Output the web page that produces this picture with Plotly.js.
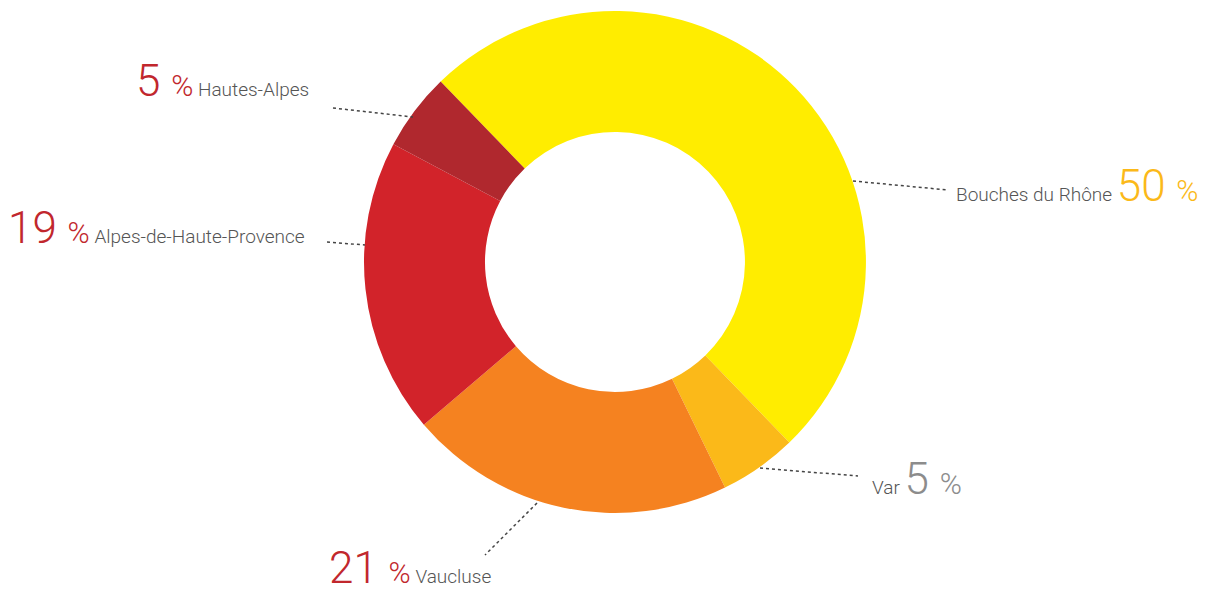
<!DOCTYPE html>
<html>
<head>
<meta charset="utf-8">
<script src="https://cdn.plot.ly/plotly-3.0.1.min.js"></script>
<style>html,body{margin:0;padding:0;background:#fff;}#chart{width:1205px;height:594px;}</style>
</head>
<body>
<div id="chart"></div>
<script>
var categories = ["Bouches du Rhône", "Var", "Vaucluse", "Alpes-de-Haute-Provence", "Hautes-Alpes"];
var values = [50, 5, 21, 19, 5];
var sliceColors = ["#FFED00", "#FBB919", "#F58220", "#D2232A", "#B0282E"];
var numberColors = ["#FBB919", "#8C8C8C", "#C1272D", "#C1272D", "#C1272D"];

var W = 1205, H = 594;
function px(x){ return x / W; }
function py(y){ return 1 - y / H; }

// pie geometry (pixels)
var cx = 615, cy = 262, R = 251;

var trace = {
  type: "pie",
  labels: categories,
  values: values,
  sort: false,
  direction: "clockwise",
  rotation: -44,
  hole: 0.518,
  textinfo: "none",
  hoverinfo: "label+percent",
  marker: { colors: sliceColors, line: { width: 0 } },
  domain: { x: [px(cx - R), px(cx + R)], y: [py(cy + R), py(cy - R)] },
  showlegend: false
};

var gray = "#555555";
function lbl(i, numFirst){
  var total = values.reduce(function(a,b){return a+b;},0);
  var pct = Math.round(values[i] / total * 100);
  var num = '<span style="font-size:44px;color:' + numberColors[i] + '">' + pct + ' </span>';
  var pc = '<span style="font-size:30px;color:' + numberColors[i] + '">%</span>';
  var name = '<span style="font-size:19px;color:' + gray + '">' + categories[i] + '</span>';
  return numFirst ? (num + pc + '<span style="font-size:19px"> </span>' + name)
                  : (name + '<span style="font-size:19px"> </span>' + num + pc);
}

var annPos = [
  { i: 0, x: 1201, y: 186, anchor: "right", numFirst: false },
  { i: 1, x: 964, y: 479, anchor: "right", numFirst: false },
  { i: 2, x: 327, y: 568, anchor: "left", numFirst: true },
  { i: 3, x: 6, y: 228, anchor: "left", numFirst: true },
  { i: 4, x: 134, y: 81, anchor: "left", numFirst: true }
];

var annotations = annPos.map(function(a){
  return {
    xref: "paper", yref: "paper",
    x: px(a.x), y: py(a.y),
    xanchor: a.anchor, yanchor: "middle",
    text: lbl(a.i, a.numFirst),
    showarrow: false,
    font: { family: "Roboto, sans-serif", size: 19, color: gray, weight: 300 }
  };
});

var leaderLines = [
  [853, 181, 948, 190],
  [760, 468, 858, 476],
  [537, 503, 485, 555],
  [327, 242, 365, 245],
  [333, 108, 413, 117]
];

var shapes = leaderLines.map(function(l){
  return {
    type: "line", xref: "paper", yref: "paper",
    x0: px(l[0]), y0: py(l[1]), x1: px(l[2]), y1: py(l[3]),
    line: { color: "#444444", width: 1.5, dash: "dot" }
  };
});

var layout = {
  width: W, height: H,
  margin: { l: 0, r: 0, t: 0, b: 0 },
  paper_bgcolor: "#ffffff",
  plot_bgcolor: "#ffffff",
  annotations: annotations,
  shapes: shapes,
  font: { family: "Roboto, sans-serif" }
};

Plotly.newPlot("chart", [trace], layout, { displayModeBar: false, staticPlot: true });
</script>
</body>
</html>
